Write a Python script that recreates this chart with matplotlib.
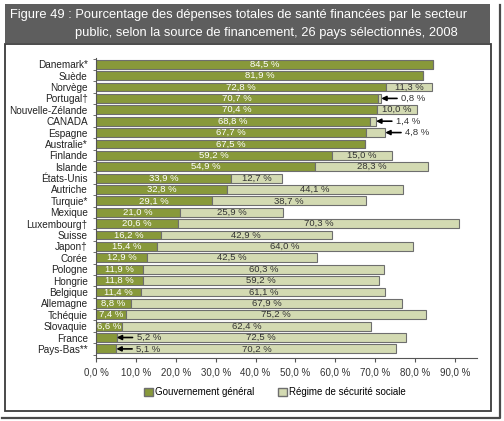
import matplotlib.pyplot as plt
from matplotlib.patches import Rectangle
from matplotlib.lines import Line2D
import numpy as np

plt.rcParams['font.family'] = ['Liberation Sans Narrow', 'Liberation Sans', 'DejaVu Sans']

# données
pays = ['Danemark*', 'Suède', 'Norvège', 'Portugal\u2020', 'Nouvelle-Zélande', 'CANADA',
        'Espagne', 'Australie*', 'Finlande', 'Islande', 'États-Unis', 'Autriche',
        'Turquie*', 'Mexique', 'Luxembourg\u2020', 'Suisse', 'Japon\u2020', 'Corée',
        'Pologne', 'Hongrie', 'Belgique', 'Allemagne', 'Tchéquie', 'Slovaquie',
        'France', 'Pays-Bas**']
gouv = [84.5, 81.9, 72.8, 70.7, 70.4, 68.8, 67.7, 67.5, 59.2, 54.9, 33.9, 32.8,
        29.1, 21.0, 20.6, 16.2, 15.4, 12.9, 11.9, 11.8, 11.4, 8.8, 7.4, 6.6, 5.2, 5.1]
secu = [0, 0, 11.3, 0.8, 10.0, 1.4, 4.8, 0, 15.0, 28.3, 12.7, 44.1,
        38.7, 25.9, 70.3, 42.9, 64.0, 42.5, 60.3, 59.2, 61.1, 67.9, 75.2, 62.4, 72.5, 70.2]
# étiquettes sorties avec flèche
fleche_secu = ['Portugal\u2020', 'CANADA', 'Espagne']
fleche_gouv = ['France', 'Pays-Bas**']

def fmt(v):
    return f'{v:.1f} %'.replace('.', ',')

vert = '#88993a'
clair = '#d3dab2'
bord = '#6e6e6e'

fig = plt.figure(figsize=(5.04, 4.21), dpi=100)

# cadre extérieur (ombre droite et bas)
fig.lines.append(Line2D([2/504, 500/504, 500/504], [1-418/421, 1-418/421, 1-5/421],
                        transform=fig.transFigure, color='#4a4a4a', lw=1.6))

# cadre du titre
fig.patches.append(Rectangle((5/504, 1-43/421), 485/504, 39/421, transform=fig.transFigure,
                             facecolor='#5e5e5e', edgecolor='none', zorder=0))
fig.text(10/504, 1-15/421, 'Figure 49 : Pourcentage des dépenses totales de santé financées par le secteur',
         color='white', fontsize=9.3, family=['Liberation Sans', 'DejaVu Sans'], va='center')
fig.text(75/504, 1-33/421, 'public, selon la source de financement, 26 pays sélectionnés, 2008',
         color='white', fontsize=9.3, family=['Liberation Sans', 'DejaVu Sans'], va='center')

# panneau
fig.patches.append(Rectangle((5/504, 1-411/421), 486/504, 367/421, transform=fig.transFigure,
                             facecolor='white', edgecolor='#3c3c3c', lw=1.3, zorder=0))

ax = fig.add_axes([96/504, 1-358/421, 381/504, 300/421])
ax.set_zorder(2)
ax.set_facecolor('none')

y = np.arange(len(pays))
h = 0.78
ax.barh(y, gouv, height=h, color=vert, edgecolor=bord, lw=0.8)
ax.barh(y, secu, left=gouv, height=h, color=clair, edgecolor=bord, lw=0.8)

fleche = dict(arrowstyle='-|>', color='black', lw=1.2, shrinkA=1, shrinkB=0, mutation_scale=7)
for i, p in enumerate(pays):
    g, s = gouv[i], secu[i]
    if p in fleche_gouv:
        ax.annotate(fmt(g), xy=(g, i), xytext=(g + 5.0, i), fontsize=6.8, color='#333333',
                    va='center', ha='left', arrowprops=fleche)
    else:
        ax.text(g / 2, i, fmt(g), color='white', fontsize=6.8, ha='center', va='center')
    if s == 0:
        continue
    if p in fleche_secu:
        ax.annotate(fmt(s), xy=(g + s, i), xytext=(g + s + 5.0, i), fontsize=6.8, color='#333333',
                    va='center', ha='left', arrowprops=fleche)
    else:
        ax.text(g + s / 2, i, fmt(s), color='#333333', fontsize=6.8, ha='center', va='center')

ax.set_xlim(0, 95.5)
ax.set_ylim(len(pays) - 0.2, -0.55)
ax.set_xticks(np.arange(0, 100, 10))
ax.set_xticklabels([fmt(v) for v in np.arange(0, 100, 10)], fontsize=7, color='#333333')
ax.set_yticks(y)
ax.set_yticklabels(pays, fontsize=7.2, color='#222222')
ax.set_yticks(np.arange(-0.5, len(pays), 1), minor=True)
ax.tick_params(axis='y', which='major', length=0, pad=6)
ax.tick_params(axis='y', which='minor', length=2, color='#555555')
ax.tick_params(axis='x', length=3, color='#555555', pad=4)
ax.spines['top'].set_visible(False)
ax.spines['right'].set_visible(False)
ax.spines['left'].set_color('#555555')
ax.spines['bottom'].set_color('#555555')

# légende
fig.legend(handles=[Rectangle((0, 0), 1, 1, facecolor=vert, edgecolor=bord),
                    Rectangle((0, 0), 1, 1, facecolor=clair, edgecolor=bord)],
           labels=['Gouvernement général', 'Régime de sécurité sociale'],
           ncol=2, frameon=False, fontsize=7, loc='center', bbox_to_anchor=(275/504, 1-392/421),
           handlelength=0.9, handleheight=0.9, handletextpad=0.2, columnspacing=2.5)

fig.savefig('out.png', dpi=100)
